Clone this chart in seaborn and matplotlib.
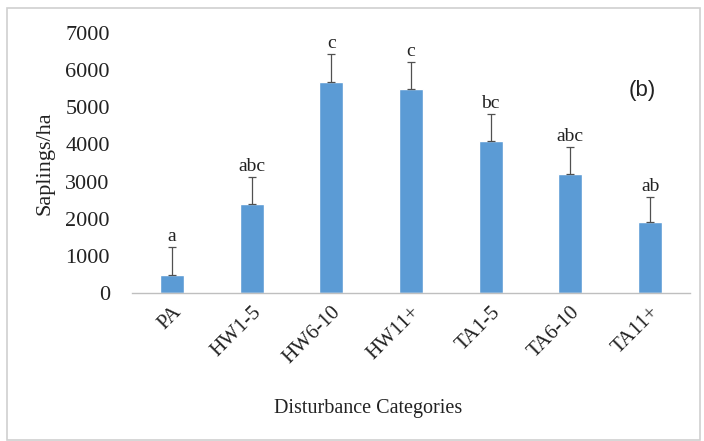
import matplotlib
matplotlib.use('Agg')
import matplotlib.pyplot as plt
import seaborn as sns
import pandas as pd
from matplotlib.patches import Rectangle

categories = ['PA', 'HW1-5', 'HW6-10', 'HW11+', 'TA1-5', 'TA6-10', 'TA11+']
saplings = [490, 2390, 5680, 5500, 4100, 3210, 1905]
errors = [740, 735, 750, 720, 720, 715, 675]
letters = ['a', 'abc', 'c', 'c', 'bc', 'abc', 'ab']

sns.set_theme(style='white')
plt.rcParams['font.family'] = ['Liberation Serif', 'DejaVu Serif']

df = pd.DataFrame({'Category': categories, 'Saplings': saplings})

fig = plt.figure(figsize=(7.04, 4.41), dpi=100)
ax = fig.add_axes([132 / 704, 1 - 293 / 441, 558 / 704, 260 / 441])

sns.barplot(data=df, x='Category', y='Saplings', color='#5B9BD5', width=0.3,
            saturation=1, ax=ax)
ax.errorbar(range(len(categories)), saplings, yerr=[[0] * len(errors), errors],
            fmt='none', ecolor='#505050', elinewidth=0.9, capsize=3, capthick=0.9)

for i, (v, e, l) in enumerate(zip(saplings, errors, letters)):
    ax.text(i, v + e + 50, l, ha='center', va='bottom', fontsize=14, color='#222222')

ax.set_ylim(0, 7000)
ax.set_xlim(-0.5, len(categories) - 0.5)
ax.set_yticks(range(0, 7001, 1000))
ax.tick_params(axis='y', labelsize=16, length=0, pad=16, colors='#222222')
ax.tick_params(axis='x', labelsize=15, length=0, pad=7, colors='#222222')
plt.setp(ax.get_xticklabels(), rotation=45, ha='right', rotation_mode='anchor')

for side in ['top', 'right', 'left']:
    ax.spines[side].set_visible(False)
ax.spines['bottom'].set_color('#BFBFBF')
ax.spines['bottom'].set_linewidth(1)

ax.set_xlabel('')
ax.set_ylabel('Saplings/ha', fontsize=16, color='#222222')
ax.yaxis.set_label_coords(-0.138, 0.5)
fig.text(368 / 704, 1 - 408 / 441, 'Disturbance Categories', ha='center', va='center',
         fontsize=14.5, color='#222222')

ax.text(642 / 704, 1 - 91 / 441, '(b)', transform=fig.transFigure, ha='center', va='center',
        fontsize=16, family='Liberation Sans', color='#222222')

fig.patches.append(Rectangle((7 / 704, 1 / 441), 693 / 704, 432 / 441,
                             transform=fig.transFigure, fill=False,
                             edgecolor='#D0D0D0', linewidth=1.2))

fig.savefig('out.png', dpi=100)
